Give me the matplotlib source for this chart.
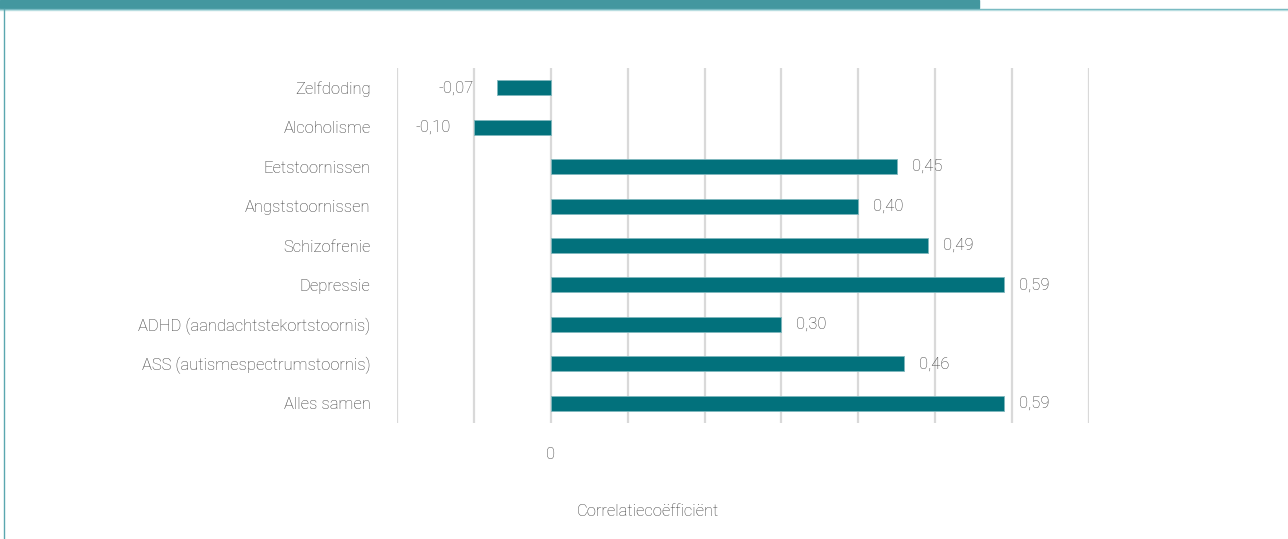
import matplotlib.pyplot as plt
from matplotlib.patches import Rectangle
from matplotlib.lines import Line2D

plt.rcParams['font.family'] = ['Roboto', 'DejaVu Sans']
plt.rcParams['font.weight'] = 'light'

# correlation per disorder, top row first
categories = ['Zelfdoding', 'Alcoholisme', 'Eetstoornissen', 'Angststoornissen',
              'Schizofrenie', 'Depressie', 'ADHD (aandachtstekortstoornis)',
              'ASS (autismespectrumstoornis)', 'Alles samen']
values = [-0.07, -0.10, 0.45, 0.40, 0.49, 0.59, 0.30, 0.46, 0.59]

bar_col = '#02717c'
txt_col = '#3a3a3a'
grid_col = '#d9d9d9'
fs = 12

W, H = 1288, 539
fig = plt.figure(figsize=(W / 100, H / 100), dpi=100)

# page decoration: teal band on top, thin rules, left edge line
fig.patches.append(Rectangle((0, 1 - 8 / H), 979 / W, 8 / H, transform=fig.transFigure,
                             color='#43979f', zorder=0))
fig.lines.append(Line2D([0, 1], [1 - 8.5 / H] * 2, transform=fig.transFigure,
                        color='#6cb3bb', lw=1.0))
fig.lines.append(Line2D([0, 1], [1 - 9.8 / H] * 2, transform=fig.transFigure,
                        color='#b8dde0', lw=1.0))
fig.lines.append(Line2D([4 / W, 4 / W], [0, 1 - 9 / H], transform=fig.transFigure,
                        color='#5aa7af', lw=1.0))

ax = fig.add_axes([397 / W, 1 - 423 / H, (1089 - 397) / W, (423 - 68) / H])
ax.set_xlim(-0.2, 0.7)
ax.set_ylim(-0.5, len(categories) - 0.5)

for g in [-0.2, -0.1, 0.0, 0.1, 0.2, 0.3, 0.4, 0.5, 0.6, 0.7]:
    ax.axvline(g, color=grid_col, lw=1.6, zorder=0)

ypos = list(range(len(categories)))[::-1]
ax.barh(ypos, values, height=0.38, color=bar_col, edgecolor='#7fb8be',
        linewidth=0.6, zorder=2)

for y, v in zip(ypos, values):
    lab = f'{v:.2f}'.replace('.', ',')
    if v >= 0:
        ax.annotate(lab, (v, y), xytext=(15, 0), textcoords='offset pixels',
                    ha='left', va='center', fontsize=fs, color=txt_col)
    else:
        ax.annotate(lab, (v, y), xytext=(-23, 0), textcoords='offset pixels',
                    ha='right', va='center', fontsize=fs, color=txt_col)

ax.set_yticks(ypos)
ax.set_yticklabels(categories, fontsize=fs, color=txt_col)
ax.tick_params(axis='y', length=0, pad=19)
ax.set_xticks([0])
ax.set_xticklabels(['0'], fontsize=fs, color=txt_col)
ax.tick_params(axis='x', length=0, pad=17)

for s in ax.spines.values():
    s.set_visible(False)

fig.text(648 / W, 1 - 511 / H, 'Correlatiecoëfficiënt', ha='center', va='center',
         fontsize=fs, color=txt_col)

fig.savefig('out.png', dpi=100)
